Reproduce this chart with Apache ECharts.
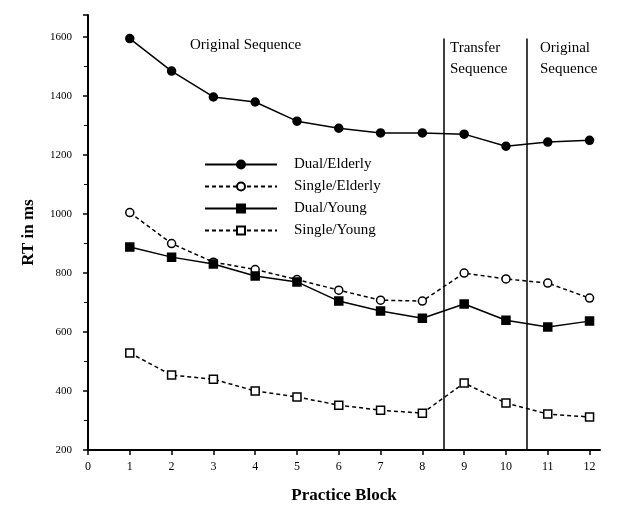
<!DOCTYPE html>
<html><head><meta charset="utf-8">
<script src="https://cdn.jsdelivr.net/npm/echarts@6/dist/echarts.min.js"></script>
<style>html,body{margin:0;padding:0;background:#fff}#c{width:623px;height:509px}</style>
</head><body><div id="c"></div>
<script>
const blocks = [1,2,3,4,5,6,7,8,9,10,11,12];
const dualElderly   = [1595,1485,1397,1380,1315,1291,1275,1275,1271,1230,1244,1250];
const singleElderly = [1005,900,837,812,778,742,708,705,800,780,766,715];
const dualYoung     = [888,854,831,790,770,705,671,647,695,640,617,637];
const singleYoung   = [529,454,440,400,380,352,335,325,427,359,322,312];
const seriesNames = ['Dual/Elderly','Single/Elderly','Dual/Young','Single/Young'];
const phaseBoundaries = [8.5, 10.5];
const yTicks = [200,400,600,800,1000,1200,1400,1600];

const font = 'Liberation Serif';
function mk(name, vals, symbol, filled, dashed) {
  return {
    name: name, type: 'line',
    data: blocks.map((b,i)=>[b, vals[i]]),
    symbol: symbol, symbolSize: 8,
    showAllSymbol: true,
    lineStyle: {color:'#000', width: 1.5, type: dashed ? [4,3] : 'solid'},
    itemStyle: {color: filled ? '#000' : '#fff', borderColor:'#000', borderWidth: 1.5},
    emphasis: {disabled: true},
    z: 3
  };
}
const series = [
  mk(seriesNames[0], dualElderly, 'circle', true, false),
  mk(seriesNames[1], singleElderly, 'circle', false, true),
  mk(seriesNames[2], dualYoung, 'rect', true, false),
  mk(seriesNames[3], singleYoung, 'rect', false, true)
];
series[0].markLine = {
  silent: true, symbol: ['none','none'], label:{show:false},
  lineStyle: {color:'#000', width:1.5, type:'solid'},
  data: phaseBoundaries.map(x => [{coord:[x,200]},{coord:[x,1595]}])
};
const chart = echarts.init(document.getElementById('c'));
chart.setOption({
  animation: false,
  backgroundColor: '#fff',
  grid: {left: 88, right: 23, top: 15, bottom: 59},
  xAxis: {
    type: 'value', min: 0, max: 12.25, interval: 1,
    name: 'Practice Block', nameLocation: 'middle', nameGap: 37,
    nameTextStyle: {fontFamily: font, fontWeight: 'bold', fontSize: 17, color:'#000'},
    axisLine: {lineStyle:{color:'#000', width:2}},
    axisTick: {show:true, inside:false, length:5, lineStyle:{color:'#000', width:1.5}},
    axisLabel: {fontFamily: font, fontSize: 12, color:'#000', margin: 11, showMaxLabel:false,
      formatter: v => Number.isInteger(v) ? String(v) : ''},
    splitLine: {show:false}
  },
  yAxis: {
    type: 'value', min: 200, max: 1675, interval: 200,
    name: 'RT in ms', nameLocation: 'middle', nameGap: 51, nameRotate: 90,
    nameTextStyle: {fontFamily: font, fontWeight: 'bold', fontSize: 17, color:'#000'},
    axisLine: {show:true, lineStyle:{color:'#000', width:2}},
    axisTick: {show:true, inside:false, length:5, lineStyle:{color:'#000', width:1.5}},
    minorTick: {show:true, splitNumber:2, length:4, lineStyle:{color:'#000', width:1}},
    axisLabel: {fontFamily: font, fontSize: 11, color:'#000', margin: 16, showMaxLabel:false,
      formatter: v => yTicks.includes(v) ? String(v) : ''},
    splitLine: {show:false}
  },
  legend: {
    data: seriesNames, orient: 'vertical', left: 199, top: 152,
    itemWidth: 72, itemHeight: 10, itemGap: 7,
    textStyle: {fontFamily: font, fontSize: 15, color:'#000', padding:[0,0,0,12]},
    selectedMode: false
  },
  graphic: [
    {type:'text', left: 190, top: 38, style:{text:'Original Sequence', font:'15px "Liberation Serif"', fill:'#000'}},
    {type:'text', left: 450, top: 38, style:{text:'Transfer\nSequence', font:'15px "Liberation Serif"', fill:'#000', lineHeight:21, align:'center'}},
    {type:'text', left: 540, top: 38, style:{text:'Original\nSequence', font:'15px "Liberation Serif"', fill:'#000', lineHeight:21}}
  ],
  series: series
});
</script></body></html>
